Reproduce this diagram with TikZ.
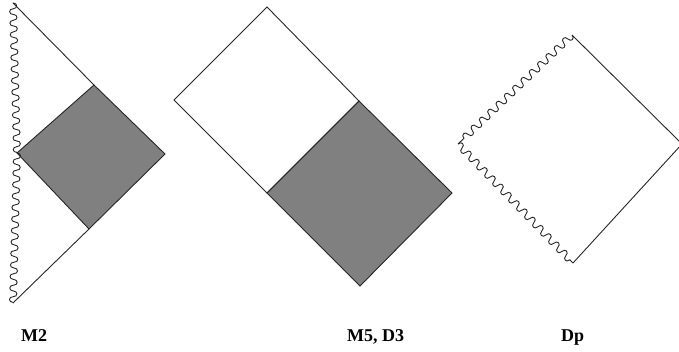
\documentclass[tikz,border=0pt]{standalone}
\usepackage{fontspec}
\setmainfont{Liberation Serif}
\usetikzlibrary{decorations}
\pgfdeclaredecoration{sbumps}{initial}{
  \state{initial}[width=\pgfdecorationsegmentlength]{
    \pgfpathcurveto{\pgfpoint{0pt}{\pgfdecorationsegmentamplitude}}{\pgfpoint{0.5\pgfdecorationsegmentlength}{\pgfdecorationsegmentamplitude}}{\pgfpoint{0.5\pgfdecorationsegmentlength}{0pt}}
    \pgfpathcurveto{\pgfpoint{0.5\pgfdecorationsegmentlength}{-\pgfdecorationsegmentamplitude}}{\pgfpoint{\pgfdecorationsegmentlength}{-\pgfdecorationsegmentamplitude}}{\pgfpoint{\pgfdecorationsegmentlength}{0pt}}
  }
  \state{final}{\pgfpathlineto{\pgfpointdecoratedpathlast}}
}
\begin{document}
\begin{tikzpicture}[x=1pt,y=-1pt,
  edge/.style={line width=0.9pt, black!85},
  wavy/.style={edge, decorate, decoration={sbumps, amplitude=4.8pt, segment length=11.5pt}},
  lbl/.style={font=\bfseries\fontsize{18}{20}\selectfont, anchor=base west, inner sep=0pt}]
\useasboundingbox (0,0) rectangle (679,352);
\clip (0,0) rectangle (679,352);
% M2
\coordinate (a1) at (13,3);
\coordinate (a2) at (17,153);
\coordinate (a3) at (13,303);
\coordinate (a4) at (94,85);
\coordinate (a5) at (165,154);
\coordinate (a6) at (89,229);
\filldraw[edge, fill=gray] (a2) -- (a4) -- (a5) -- (a6) -- cycle;
\draw[wavy] (a1) -- (a2);
\draw[wavy] (a2) -- (a3);
\draw[edge] (a1) -- (a4);
\draw[edge] (a6) -- (a3);
% M5, D3
\coordinate (b1) at (267,7);
\coordinate (b2) at (174,100);
\coordinate (b3) at (267,193);
\coordinate (b4) at (359,101);
\coordinate (b5) at (360,286);
\coordinate (b6) at (452,193);
\filldraw[edge, fill=gray] (b4) -- (b3) -- (b5) -- (b6) -- cycle;
\draw[edge] (b1) -- (b2) -- (b3) -- (b4) -- cycle;
% Dp
\coordinate (c1) at (572,35);
\coordinate (c2) at (458,144);
\coordinate (c3) at (573,263);
\coordinate (c4) at (682,144);
\draw[wavy] (c1) -- (c2);
\draw[wavy] (c2) -- (c3);
\draw[edge] (c1) -- (c4) -- (c3);
% labels
\node[lbl] (m2) at (21,341) {M2};
\node[lbl] (m5) at (347,341) {M5, D3};
\node[lbl] (dp) at (561,341) {Dp};
\end{tikzpicture}
\end{document}
